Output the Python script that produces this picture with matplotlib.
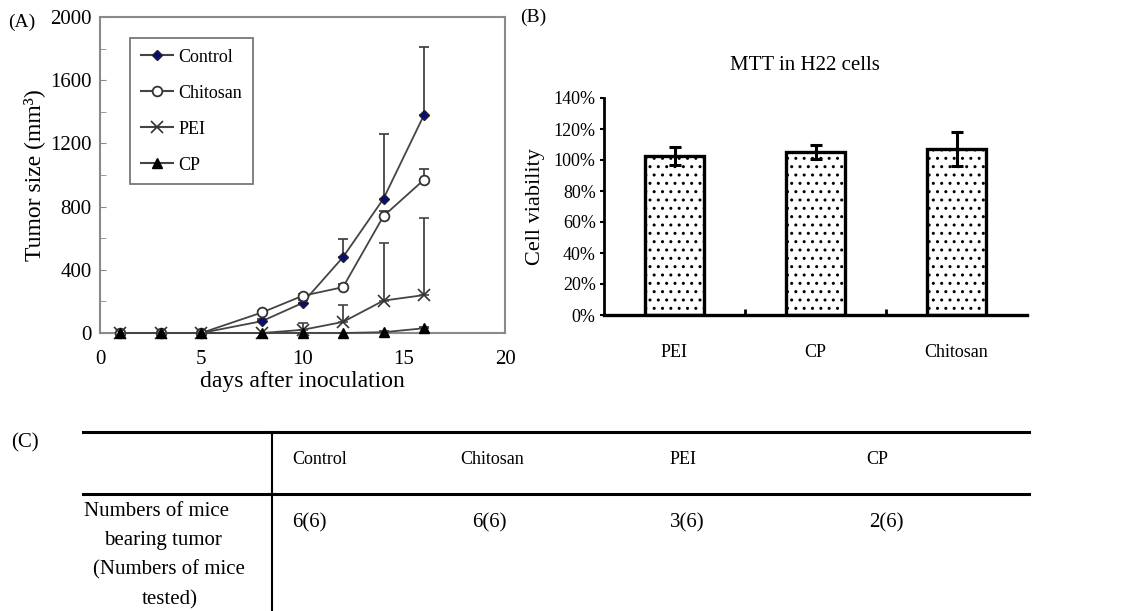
import matplotlib
matplotlib.use("Agg")
import matplotlib.pyplot as plt
from matplotlib.lines import Line2D
import numpy as np

plt.rcParams['font.family'] = ['Liberation Serif', 'DejaVu Serif']
plt.rcParams['hatch.linewidth'] = 1.0

# (A) tumor growth
days = [1, 3, 5, 8, 10, 12, 14, 16]
control = [0, 0, 0, 75, 190, 480, 850, 1380]
control_err = [0, 0, 0, 15, 20, 115, 410, 430]
chitosan = [0, 0, 0, 130, 235, 290, 740, 970]
chitosan_err = [0, 0, 0, 10, 15, 20, 30, 70]
pei = [0, 0, 0, 0, 20, 70, 205, 240]
pei_err = [0, 0, 0, 0, 45, 107, 365, 490]
cp = [0, 0, 0, 0, 0, 0, 5, 30]
cp_err = [0, 0, 0, 0, 0, 0, 5, 10]

# (B) MTT
groups_b = ['PEI', 'CP', 'Chitosan']
viability = [1.025, 1.05, 1.07]
viability_err = [0.06, 0.045, 0.11]

# (C) table
table_cols = ['Control', 'Chitosan', 'PEI', 'CP']
table_vals = ['6(6)', '6(6)', '3(6)', '2(6)']
row_label = ['Numbers of mice', 'bearing tumor', '(Numbers of mice', 'tested)']

W, H = 1132, 611
fig = plt.figure(figsize=(W / 100, H / 100), dpi=100)

def fx(px):
    return px / W

def fy(py):
    return 1 - py / H

# ---- panel A
axA = fig.add_axes([fx(100), fy(333), fx(505) - fx(100), fy(17) - fy(333)])
series = [
    ('Control', control, control_err, dict(marker='D', markersize=5.5, markerfacecolor='#0a0a80', markeredgecolor='#222222')),
    ('Chitosan', chitosan, chitosan_err, dict(marker='o', markersize=7, markerfacecolor='white', markeredgecolor='#333333', markeredgewidth=1.3)),
    ('PEI', pei, pei_err, dict(marker='x', markersize=8, markeredgecolor='#333333', markeredgewidth=1.2)),
    ('CP', cp, cp_err, dict(marker='^', markersize=7, markerfacecolor='black', markeredgecolor='black')),
]
handles = []
for name, vals, err, style in series:
    yerr = [np.zeros(len(err)), err]
    axA.errorbar(days, vals, yerr=yerr, color='#444444', lw=1.3, capsize=3.5,
                 elinewidth=1.3, capthick=1.3, clip_on=False, zorder=3, **style)
    handles.append(Line2D([], [], color='#444444', lw=1.5, label=name, **style))

axA.set_xlim(0, 20)
axA.set_ylim(0, 2000)
axA.set_xticks([0, 5, 10, 15, 20])
axA.set_yticks([0, 400, 800, 1200, 1600, 2000])
axA.set_yticks([200, 600, 1000, 1400, 1800], minor=True)
axA.tick_params(axis='y', which='both', direction='in', length=4, color='#888888', labelsize=15, pad=6)
axA.tick_params(axis='x', length=0, labelsize=15, pad=12)
for sp in axA.spines.values():
    sp.set_color('#8a8a8a')
    sp.set_linewidth(1.5)
axA.set_ylabel('Tumor size (mm³)', fontsize=17, labelpad=4)
axA.set_xlabel('days after inoculation', fontsize=17, labelpad=2)
leg = axA.legend(handles=handles, loc='upper left', bbox_to_anchor=(0.074, 0.934), borderaxespad=0,
                 fontsize=13, labelspacing=1.05, handlelength=1.8, handletextpad=0.3,
                 fancybox=False, framealpha=1, borderpad=0.6)
leg.get_frame().set_edgecolor('#777777')
leg.get_frame().set_linewidth(1.3)

# ---- panel B
axB = fig.add_axes([fx(604), fy(315), fx(1027) - fx(604), fy(98) - fy(315)])
xb = np.arange(len(groups_b))
axB.bar(xb, viability, width=0.42, color='white', edgecolor='black', linewidth=2.4, hatch='..', zorder=2)
axB.errorbar(xb, viability, yerr=viability_err, fmt='none', ecolor='black', elinewidth=2.2,
             capsize=4, capthick=2.2, zorder=3)
axB.set_xlim(-0.5, 2.5)
axB.set_ylim(0, 1.4)
axB.set_yticks(np.arange(0, 1.41, 0.2))
axB.set_yticklabels([f'{int(round(v * 100))}%' for v in np.arange(0, 1.41, 0.2)])
axB.set_xticks(xb)
axB.set_xticklabels(groups_b)
axB.set_xticks([0.5, 1.5], minor=True)
axB.tick_params(axis='x', which='major', length=0, labelsize=13, pad=21)
axB.tick_params(axis='x', which='minor', direction='in', length=4, width=2)
axB.tick_params(axis='y', direction='out', length=3, width=1.5, labelsize=13, pad=3)
for s in ['top', 'right']:
    axB.spines[s].set_visible(False)
axB.spines['left'].set_linewidth(2)
axB.spines['bottom'].set_linewidth(2.4)
axB.set_ylabel('Cell viability', fontsize=16, labelpad=6)
fig.text(fx(805), fy(65), 'MTT in H22 cells', fontsize=15, ha='center', va='center')

# panel labels
fig.text(fx(8), fy(22), '(A)', fontsize=14, ha='left', va='center')
fig.text(fx(520), fy(17), '(B)', fontsize=14, ha='left', va='center')
fig.text(fx(11), fy(443), '(C)', fontsize=15, ha='left', va='center')

# ---- panel C table
fig.add_artist(Line2D([fx(83), fx(1029)], [fy(432), fy(432)], color='black', lw=2.2))
fig.add_artist(Line2D([fx(83), fx(1029)], [fy(494), fy(494)], color='black', lw=2.2))
fig.add_artist(Line2D([fx(272), fx(272)], [fy(432), fy(611)], color='black', lw=1.5))

col_x = [292, 460, 670, 866]
val_x = [292, 472, 670, 869]
for cx, name in zip(col_x, table_cols):
    fig.text(fx(cx), fy(459), name, fontsize=13, ha='left', va='center')
for cx, v in zip(val_x, table_vals):
    fig.text(fx(cx), fy(523), v, fontsize=15, ha='left', va='center')
row_y = [512, 540, 570, 600]
row_cx = [157, 163, 169, 170]
for cx, ry, line in zip(row_cx, row_y, row_label):
    fig.text(fx(cx), fy(ry), line, fontsize=15, ha='center', va='center')

fig.savefig('out.png', dpi=100)
